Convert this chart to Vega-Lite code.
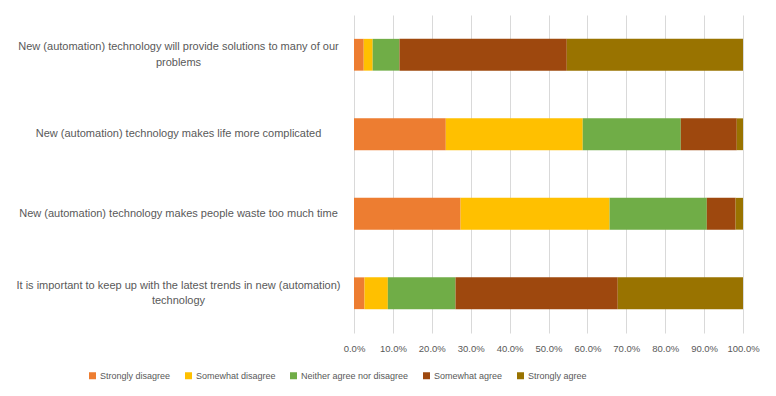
{
  "$schema": "https://vega.github.io/schema/vega-lite/v6.json",
  "autosize": "none",
  "width": 389,
  "height": 318,
  "padding": {"left": 354, "top": 15, "right": 33, "bottom": 63},
  "background": "white",
  "config": {
    "view": {"stroke": null},
    "font": "Liberation Sans",
    "axis": {"labelColor": "#595959", "labelFont": "Liberation Sans", "labelFontSize": 10},
    "legend": {"labelColor": "#595959", "labelFont": "Liberation Sans", "labelFontSize": 9}
  },
  "data": {
    "values": [
      {"question": "New (automation) technology will provide solutions to many of our problems", "response": "Strongly disagree", "rank": 1, "value": 2.5},
      {"question": "New (automation) technology will provide solutions to many of our problems", "response": "Somewhat disagree", "rank": 2, "value": 2.3},
      {"question": "New (automation) technology will provide solutions to many of our problems", "response": "Neither agree nor disagree", "rank": 3, "value": 6.9},
      {"question": "New (automation) technology will provide solutions to many of our problems", "response": "Somewhat agree", "rank": 4, "value": 43.0},
      {"question": "New (automation) technology will provide solutions to many of our problems", "response": "Strongly agree", "rank": 5, "value": 45.3},
      {"question": "New (automation) technology makes life more complicated", "response": "Strongly disagree", "rank": 1, "value": 23.6},
      {"question": "New (automation) technology makes life more complicated", "response": "Somewhat disagree", "rank": 2, "value": 35.2},
      {"question": "New (automation) technology makes life more complicated", "response": "Neither agree nor disagree", "rank": 3, "value": 25.2},
      {"question": "New (automation) technology makes life more complicated", "response": "Somewhat agree", "rank": 4, "value": 14.4},
      {"question": "New (automation) technology makes life more complicated", "response": "Strongly agree", "rank": 5, "value": 1.6},
      {"question": "New (automation) technology makes people waste too much time", "response": "Strongly disagree", "rank": 1, "value": 27.4},
      {"question": "New (automation) technology makes people waste too much time", "response": "Somewhat disagree", "rank": 2, "value": 38.3},
      {"question": "New (automation) technology makes people waste too much time", "response": "Neither agree nor disagree", "rank": 3, "value": 25.0},
      {"question": "New (automation) technology makes people waste too much time", "response": "Somewhat agree", "rank": 4, "value": 7.4},
      {"question": "New (automation) technology makes people waste too much time", "response": "Strongly agree", "rank": 5, "value": 1.9},
      {"question": "It is important to keep up with the latest trends in new (automation) technology", "response": "Strongly disagree", "rank": 1, "value": 2.7},
      {"question": "It is important to keep up with the latest trends in new (automation) technology", "response": "Somewhat disagree", "rank": 2, "value": 6.0},
      {"question": "It is important to keep up with the latest trends in new (automation) technology", "response": "Neither agree nor disagree", "rank": 3, "value": 17.4},
      {"question": "It is important to keep up with the latest trends in new (automation) technology", "response": "Somewhat agree", "rank": 4, "value": 41.7},
      {"question": "It is important to keep up with the latest trends in new (automation) technology", "response": "Strongly agree", "rank": 5, "value": 32.2}
    ]
  },
  "mark": {"type": "bar"},
  "encoding": {
    "y": {
      "field": "question",
      "type": "nominal",
      "sort": [
        "New (automation) technology will provide solutions to many of our problems",
        "New (automation) technology makes life more complicated",
        "New (automation) technology makes people waste too much time",
        "It is important to keep up with the latest trends in new (automation) technology"
      ],
      "scale": {"paddingInner": 0.6, "paddingOuter": 0.3},
      "axis": {
        "title": null,
        "ticks": false,
        "domain": false,
        "grid": false,
        "labelFontSize": 11,
        "labelAlign": "center",
        "labelBaseline": "middle",
        "labelPadding": 176,
        "labelLimit": 400,
        "labelLineHeight": 15.5,
        "labelOffset": {"condition": {"test": "indexof(datum.value, 'problems') >= 0 || indexof(datum.value, 'trends') >= 0", "value": -7.5}, "value": 0},
        "labelExpr": "datum.label == 'New (automation) technology will provide solutions to many of our problems' ? ['New (automation) technology will provide solutions to many of our', 'problems'] : datum.label == 'It is important to keep up with the latest trends in new (automation) technology' ? ['It is important to keep up with the latest trends in new (automation)', 'technology'] : datum.label"
      }
    },
    "x": {
      "field": "value",
      "type": "quantitative",
      "stack": "normalize",
      "scale": {"domain": [0, 1], "nice": false},
      "axis": {
        "title": null,
        "labelExpr": "format(datum.value, '.1%')",
        "values": [0, 0.1, 0.2, 0.3, 0.4, 0.5, 0.6, 0.7, 0.8, 0.9, 1],
        "ticks": false,
        "domain": false,
        "grid": true,
        "gridColor": "#d9d9d9",
        "labelFontSize": 9.5,
        "labelPadding": 10,
        "labelFlush": false
      }
    },
    "color": {
      "field": "response",
      "type": "nominal",
      "scale": {
        "domain": ["Strongly disagree", "Somewhat disagree", "Neither agree nor disagree", "Somewhat agree", "Strongly agree"],
        "range": ["#ED7D31", "#FFC000", "#70AD47", "#9E480E", "#997300"]
      },
      "legend": {
        "title": null,
        "orient": "none",
        "direction": "horizontal",
        "legendX": -266,
        "legendY": 356,
        "symbolType": "square",
        "symbolSize": 49,
        "symbolStrokeWidth": 0,
        "labelOffset": 3,
        "columnPadding": 13
      }
    },
    "order": {"field": "rank", "type": "quantitative"}
  }
}
